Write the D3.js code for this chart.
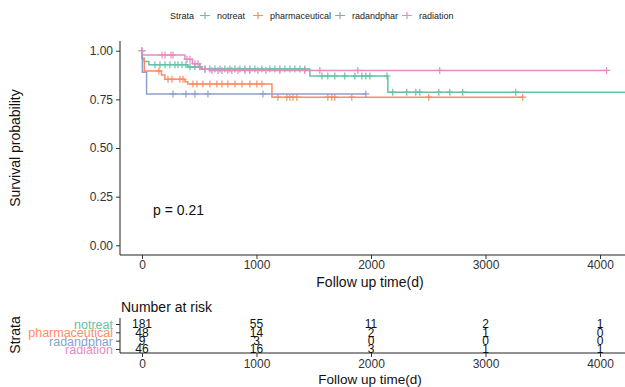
<!DOCTYPE html>
<html>
<head>
<meta charset="utf-8">
<script src="https://cdn.jsdelivr.net/npm/d3@7"></script>
<style>
  body { margin: 0; background: #fff; }
  svg { display: block; font-family: "Liberation Sans", Arial, sans-serif; }
</style>
</head>
<body>
<svg id="chart" width="625" height="387"></svg>
<script>
// strata and colours
const strata = ["notreat", "pharmaceutical", "radandphar", "radiation"];
const colors = ["#66C2A5", "#FC8D62", "#8DA0CB", "#E78AC3"];

// step curves (time in days, survival)
const notreatTime = [0, 1, 20, 60, 400, 520, 1466, 2147, 4300];
const notreatSurv = [1.0, 0.961, 0.945, 0.928, 0.917, 0.906, 0.870, 0.787, 0.787];
const pharmaTime = [0, 2, 20, 170, 200, 375, 400, 1135, 3325];
const pharmaSurv = [1.0, 0.958, 0.896, 0.875, 0.853, 0.840, 0.829, 0.761, 0.761];
const radphTime = [0, 3, 40, 1955];
const radphSurv = [1.0, 0.889, 0.778, 0.778];
const radiationTime = [0, 3, 375, 440, 505, 600, 4058];
const radiationSurv = [1.0, 0.978, 0.956, 0.933, 0.905, 0.899, 0.899];

// censoring times
const notreatCens = [0, 113, 157, 201, 244, 288, 314, 349, 384, 419, 462, 506, 550, 593, 637, 681, 724, 768, 812, 855, 899, 942, 986, 1047, 1117, 1161, 1204, 1248, 1292, 1335, 1379, 1422,
  1571, 1623, 1684, 1771, 1859, 1920, 1955, 1990, 2140, 2190, 2312, 2391, 2426, 2592, 2688, 2801, 3264];
const pharmaCens = [148, 227, 262, 332, 358, 445, 480, 532, 593, 654, 698, 750, 812, 873, 942, 1003, 1047,
  1187, 1265, 1291, 1318, 1353, 1623, 1658, 1684, 1832, 2504, 3325];
const radphCens = [271, 384, 462, 576, 1056, 1955];
const radiationCens = [0, 175, 201, 253, 271, 393, 419, 462, 489, 550, 611, 663, 698, 750, 785, 838, 899, 942, 1012, 1082, 1204, 1422, 1553, 1885, 2600, 4058];

// risk table
const riskTimes = [0, 1000, 2000, 3000, 4000];
const riskNotreat = [181, 55, 11, 2, 1];
const riskPharma = [48, 14, 2, 1, 0];
const riskRadph = [9, 3, 0, 0, 0];
const riskRadiation = [46, 16, 3, 1, 1];

const yTicks = [0, 0.25, 0.5, 0.75, 1.0];
const xTicks = [0, 1000, 2000, 3000, 4000];

const curves = [
  { time: notreatTime, surv: notreatSurv, cens: notreatCens, risk: riskNotreat },
  { time: pharmaTime, surv: pharmaSurv, cens: pharmaCens, risk: riskPharma },
  { time: radphTime, surv: radphSurv, cens: radphCens, risk: riskRadph },
  { time: radiationTime, surv: radiationSurv, cens: radiationCens, risk: riskRadiation }
];

const svg = d3.select("#chart");
const pLeft = 120, pRight = 625, pTop = 41, pBottom = 255;

const x = d3.scaleLinear().domain([-192, 4218]).range([pLeft, pRight]);
const y = d3.scaleLinear().domain([-0.05, 1.05]).range([pBottom, pTop]);

svg.append("defs").append("clipPath").attr("id", "clip")
  .append("rect").attr("x", pLeft).attr("y", pTop - 5).attr("width", pRight - pLeft).attr("height", pBottom - pTop + 5);

// survival value at time t
function survAt(c, t) {
  let s = c.surv[0];
  for (let i = 0; i < c.time.length; i++) if (c.time[i] <= t) s = c.surv[i];
  return s;
}

const plot = svg.append("g").attr("clip-path", "url(#clip)");
const line = d3.line().curve(d3.curveStepAfter).x(d => x(d[0])).y(d => y(d[1]));

curves.forEach((c, i) => {
  const pts = c.time.map((t, j) => [t, c.surv[j]]);
  plot.append("path").datum(pts)
    .attr("d", line).attr("fill", "none")
    .attr("stroke", colors[i]).attr("stroke-width", 1.5);
  plot.selectAll(null).data(c.cens).join("path")
    .attr("transform", t => `translate(${x(t)},${y(survAt(c, t))})`)
    .attr("d", "M-3.5,0H3.5M0,-3.5V3.5")
    .attr("stroke", colors[i]).attr("stroke-width", 1.2);
});

// axes
const yAxis = svg.append("g").attr("transform", `translate(${pLeft},0)`)
  .call(d3.axisLeft(y).tickValues(yTicks).tickFormat(d3.format(".2f")).tickSize(4).tickSizeOuter(0));
yAxis.select(".domain").attr("d", `M0,${pTop}V${pBottom}`);
const xAxis = svg.append("g").attr("transform", `translate(0,${pBottom})`)
  .call(d3.axisBottom(x).tickValues(xTicks).tickFormat(d3.format("d")).tickSize(4).tickSizeOuter(0));
xAxis.select(".domain").attr("d", `M${pLeft},0H${pRight}`);
[yAxis, xAxis].forEach(g => {
  g.selectAll("text").attr("font-size", 12).attr("fill", "#333").attr("font-family", "Liberation Sans, Arial, sans-serif");
  g.selectAll("line").attr("stroke", "#333");
  g.select(".domain").attr("stroke", "#222");
});
xAxis.selectAll("text").attr("dy", "0.6em");

svg.append("text").attr("x", 370).attr("y", 287).attr("text-anchor", "middle")
  .attr("font-size", 14).attr("fill", "#111").text("Follow up time(d)");
svg.append("text").attr("transform", "translate(20,148) rotate(-90)").attr("text-anchor", "middle")
  .attr("font-size", 14).attr("fill", "#111").text("Survival probability");
svg.append("text").attr("x", 153).attr("y", 215).attr("font-size", 14).attr("fill", "#111").text("p = 0.21");

// legend
const lg = svg.append("g").attr("font-size", 9).attr("fill", "#222");
lg.append("text").attr("x", 170).attr("y", 19).text("Strata");
const legX = [200, 253, 335, 402];
strata.forEach((s, i) => {
  lg.append("path").attr("d", `M${legX[i]},15.5H${legX[i] + 10}M${legX[i] + 5},12V19`)
    .attr("stroke", colors[i]).attr("stroke-width", 1.2);
  lg.append("text").attr("x", legX[i] + 17).attr("y", 19).text(s);
});

// risk table
const rTop = 318, rBottom = 353;
const rowY = d3.scalePoint().domain(strata).range([324, 349]);
svg.append("text").attr("x", 121).attr("y", 312).attr("font-size", 14).attr("fill", "#111").text("Number at risk");

const rY = svg.append("g").attr("transform", `translate(${pLeft},0)`)
  .call(d3.axisLeft(rowY).tickSize(4).tickSizeOuter(0));
rY.select(".domain").attr("d", `M0,${rTop}V${rBottom}`).attr("stroke", "#222");
rY.selectAll("line").attr("stroke", "#333");
rY.selectAll("text").attr("font-size", 12.5).attr("font-family", "Liberation Sans, Arial, sans-serif")
  .attr("fill", (d, i) => colors[i]).attr("dy", "0.35em");

const rX = svg.append("g").attr("transform", `translate(0,${rBottom})`)
  .call(d3.axisBottom(x).tickValues(riskTimes).tickFormat(d3.format("d")).tickSize(4).tickSizeOuter(0));
rX.select(".domain").attr("d", `M${pLeft},0H${pRight}`).attr("stroke", "#222");
rX.selectAll("line").attr("stroke", "#333");
rX.selectAll("text").attr("font-size", 12).attr("fill", "#333").attr("dy", "0.7em")
  .attr("font-family", "Liberation Sans, Arial, sans-serif");

curves.forEach((c, i) => {
  svg.selectAll(null).data(riskTimes).join("text")
    .attr("x", t => x(t)).attr("y", rowY(strata[i])).attr("dy", "0.35em")
    .attr("text-anchor", "middle").attr("font-size", 12).attr("fill", "#111")
    .text((t, j) => c.risk[j]);
});

svg.append("text").attr("transform", "translate(20,335) rotate(-90)").attr("text-anchor", "middle")
  .attr("font-size", 14).attr("fill", "#111").text("Strata");
svg.append("text").attr("x", 370).attr("y", 384).attr("text-anchor", "middle")
  .attr("font-size", 13.5).attr("fill", "#111").text("Follow up time(d)");
</script>
</body>
</html>
